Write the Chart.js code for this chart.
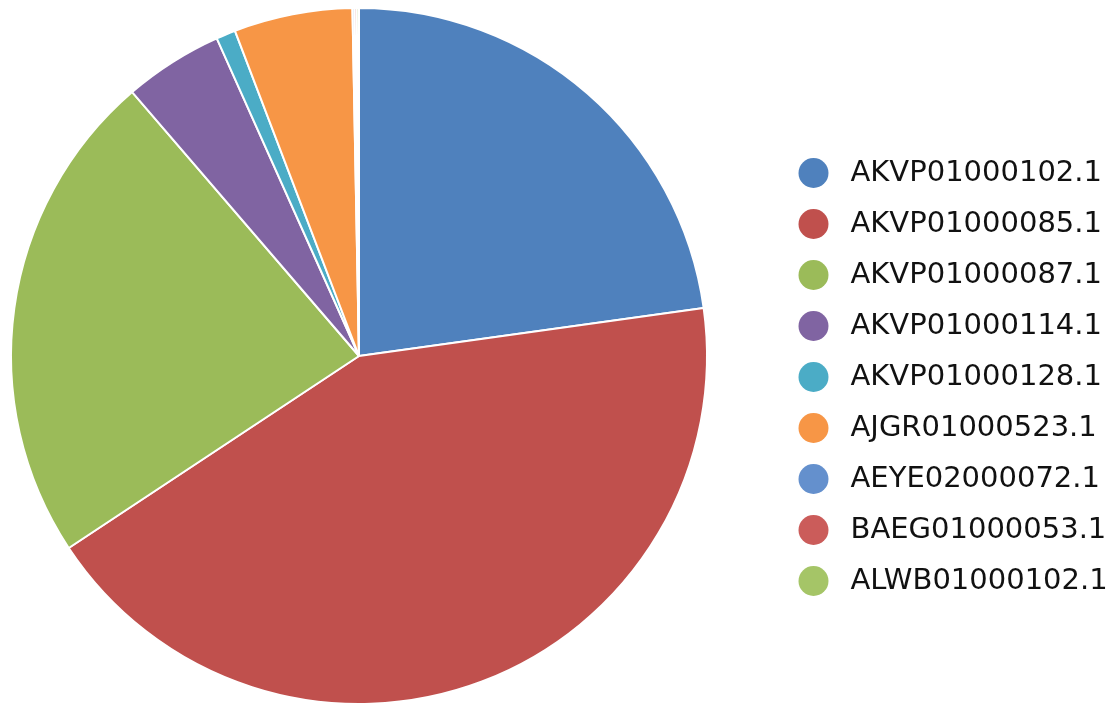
<!DOCTYPE html>
<html>
<head>
<meta charset="utf-8">
<script src="https://cdn.jsdelivr.net/npm/chart.js@4/dist/chart.umd.min.js"></script>
<style>
  html, body { margin: 0; padding: 0; background: #fff; }
  #wrap { width: 1116px; height: 709px; }
</style>
</head>
<body>
<div id="wrap"><canvas id="pie"></canvas></div>
<script>
const labels = ['AKVP01000102.1', 'AKVP01000085.1', 'AKVP01000087.1', 'AKVP01000114.1',
  'AKVP01000128.1', 'AJGR01000523.1', 'AEYE02000072.1', 'BAEG01000053.1', 'ALWB01000102.1'];
const shares = [22.8, 42.9, 23.0, 4.6, 0.9, 5.5, 0.1, 0.1, 0.1];
const colors = ['#4f81bd', '#c0504d', '#9bbb59', '#8064a2', '#4bacc6', '#f79646',
  '#6490cd', '#cb5c5a', '#a5c567'];

// round legend dot, drawn on the left part of a wider box so the text sits further right
function dot(color) {
  const c = document.createElement('canvas');
  c.width = 38; c.height = 32;
  const ctx = c.getContext('2d');
  ctx.fillStyle = color;
  ctx.beginPath();
  ctx.arc(15.5, 16, 15, 0, Math.PI * 2);
  ctx.fill();
  return c;
}

// put the pie and the legend where the reference has them
const placeThings = {
  id: 'placeThings',
  afterLayout(chart) {
    const ca = chart.chartArea;
    ca.left = 0; ca.right = 718; ca.width = 718;
    const lg = chart.legend;
    const w = lg.right - lg.left;
    lg.left = 776; lg.right = 776 + w;
  }
};

new Chart(document.getElementById('pie'), {
  type: 'pie',
  data: {
    labels: labels,
    datasets: [{
      data: shares,
      backgroundColor: colors,
      borderColor: '#ffffff',
      borderWidth: 2
    }]
  },
  options: {
    responsive: true,
    maintainAspectRatio: false,
    animation: false,
    layout: { padding: { top: 7, bottom: 4 } },
    plugins: {
      tooltip: { enabled: false },
      legend: {
        position: 'right',
        title: { display: true, text: '', font: { size: 10 }, padding: 15 },
        labels: {
          usePointStyle: true,
          pointStyleWidth: 38,
          boxHeight: 29,
          padding: 22,
          color: '#111',
          font: { family: 'DejaVu Sans', size: 29 },
          generateLabels(chart) {
            const items = Chart.overrides.pie.plugins.legend.labels.generateLabels(chart);
            items.forEach((it, i) => { it.pointStyle = dot(colors[i]); });
            return items;
          }
        }
      }
    }
  },
  plugins: [placeThings]
});
</script>
</body>
</html>
